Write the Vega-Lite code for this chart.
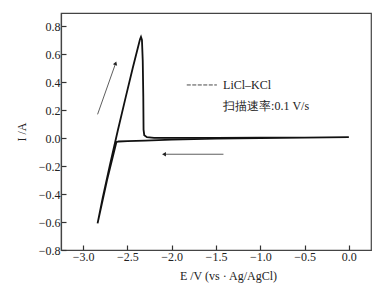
{
  "$schema": "https://vega.github.io/schema/vega-lite/v6.json",
  "width": 310,
  "height": 237,
  "autosize": "none",
  "padding": {"left": 61, "top": 13, "right": 20, "bottom": 48},
  "config": {
    "view": {"stroke": "#444", "strokeWidth": 1.2},
    "font": "Liberation Serif",
    "axis": {
      "domainColor": "#444",
      "domainWidth": 1.2,
      "tickColor": "#333",
      "tickSize": -5,
      "tickWidth": 1.2,
      "grid": false,
      "labelOverlap": false,
      "labelFont": "Liberation Serif",
      "labelFontSize": 12,
      "labelColor": "#222",
      "titleFont": "Liberation Serif",
      "titleFontSize": 12,
      "titleFontWeight": "normal",
      "titleColor": "#222"
    }
  },
  "datasets": {
    "cv": [
      {"order": 1, "E": 0.0, "I": 0.006},
      {"order": 2, "E": -0.5, "I": 0.003},
      {"order": 3, "E": -1.0, "I": 0.0},
      {"order": 4, "E": -1.5, "I": -0.005},
      {"order": 5, "E": -2.0, "I": -0.012},
      {"order": 6, "E": -2.3, "I": -0.018},
      {"order": 7, "E": -2.5, "I": -0.022},
      {"order": 8, "E": -2.6, "I": -0.025},
      {"order": 9, "E": -2.625, "I": -0.03},
      {"order": 10, "E": -2.73, "I": -0.30},
      {"order": 11, "E": -2.837, "I": -0.61},
      {"order": 12, "E": -2.78, "I": -0.43},
      {"order": 13, "E": -2.70, "I": -0.20},
      {"order": 14, "E": -2.61, "I": 0.05},
      {"order": 15, "E": -2.52, "I": 0.29},
      {"order": 16, "E": -2.44, "I": 0.50},
      {"order": 17, "E": -2.38, "I": 0.65},
      {"order": 18, "E": -2.358, "I": 0.705},
      {"order": 19, "E": -2.347, "I": 0.722},
      {"order": 20, "E": -2.336, "I": 0.70},
      {"order": 21, "E": -2.327, "I": 0.55},
      {"order": 22, "E": -2.321, "I": 0.30},
      {"order": 23, "E": -2.318, "I": 0.06},
      {"order": 24, "E": -2.31, "I": 0.02},
      {"order": 25, "E": -2.28, "I": 0.006},
      {"order": 26, "E": -2.2, "I": 0.001},
      {"order": 27, "E": -1.5, "I": 0.0},
      {"order": 28, "E": -1.0, "I": 0.002},
      {"order": 29, "E": -0.5, "I": 0.003},
      {"order": 30, "E": 0.0, "I": 0.006}
    ],
    "arrows": [
      {"E": -2.837, "I": 0.169, "E2": -2.633, "I2": 0.534},
      {"E": -1.416, "I": -0.116, "E2": -2.087, "I2": -0.116}
    ],
    "heads": [
      {"E": -2.633, "I": 0.534, "angle": 19.4},
      {"E": -2.087, "I": -0.116, "angle": 270}
    ],
    "legendLine": [
      {"E": -1.83, "I": 0.379, "E2": -1.49, "I2": 0.379}
    ],
    "labels": [
      {"E": -1.42, "I": 0.379, "text": "LiCl–KCl"},
      {"E": -1.42, "I": 0.231, "text": "扫描速率:0.1 V/s"}
    ]
  },
  "encoding": {
    "x": {
      "field": "E", "type": "quantitative",
      "scale": {"domain": [-3.25, 0.25], "nice": false, "zero": false},
      "axis": {"values": [-3.0, -2.5, -2.0, -1.5, -1.0, -0.5, 0.0], "format": ".1f", "labelOverlap": false, "title": "E /V (vs · Ag/AgCl)", "titleX": 167, "titlePadding": 8, "labelPadding": 6}
    },
    "y": {
      "field": "I", "type": "quantitative",
      "scale": {"domain": [-0.8, 0.893], "nice": false, "zero": false},
      "axis": {"values": [-0.8, -0.6, -0.4, -0.2, 0.0, 0.2, 0.4, 0.6, 0.8], "format": ".1f", "labelOverlap": false, "title": "I /A", "titlePadding": 10, "labelPadding": 6}
    }
  },
  "layer": [
    {
      "data": {"name": "cv"},
      "mark": {"type": "line", "color": "#111", "strokeWidth": 1.8},
      "encoding": {
        "order": {"field": "order", "type": "quantitative"}
      }
    },
    {
      "data": {"name": "arrows"},
      "mark": {"type": "rule", "color": "#333", "strokeWidth": 0.8},
      "encoding": {
        "x2": {"field": "E2"},
        "y2": {"field": "I2"}
      }
    },
    {
      "data": {"name": "heads"},
      "mark": {"type": "point", "shape": "triangle-up", "filled": true, "color": "#222", "size": 20, "opacity": 1},
      "encoding": {
        "angle": {"field": "angle", "type": "quantitative", "scale": null}
      }
    },
    {
      "data": {"name": "legendLine"},
      "mark": {"type": "rule", "color": "#333", "strokeWidth": 0.9, "strokeDash": [4, 1.5]},
      "encoding": {
        "x2": {"field": "E2"},
        "y2": {"field": "I2"}
      }
    },
    {
      "data": {"name": "labels"},
      "mark": {"type": "text", "align": "left", "baseline": "middle", "fontSize": 12, "color": "#222", "font": "Liberation Serif"},
      "encoding": {
        "text": {"field": "text"}
      }
    }
  ]
}
